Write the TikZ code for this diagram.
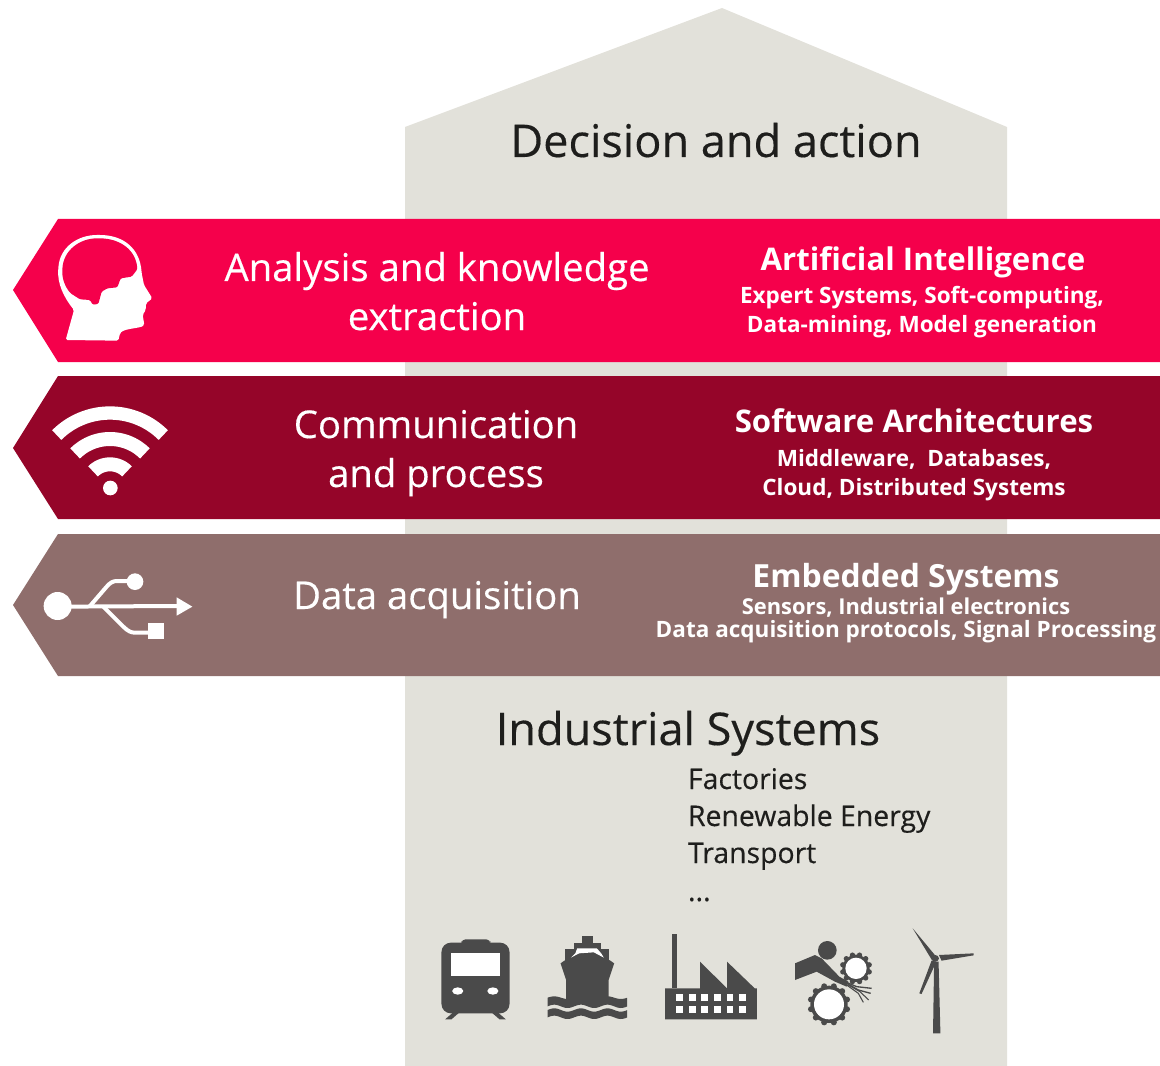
\documentclass[tikz,border=0pt]{standalone}
\usepackage{fontspec}
\setmainfont{Open Sans}
\newfontfamily\medfont{Open Sans}[RawFeature={embolden=0.35}]
\definecolor{house}{HTML}{E2E1DA}
\definecolor{bandA}{HTML}{F5004B}
\definecolor{bandB}{HTML}{950529}
\definecolor{bandC}{HTML}{8F6E6C}
\definecolor{ink}{HTML}{1E1E1C}
\definecolor{icon}{HTML}{4A4A4A}
\tikzset{
  txt/.style={anchor=base,inner sep=0pt,outer sep=0pt,align=center},
  big/.style={txt,font=\medfont\fontsize{33.8}{40}\selectfont,text=ink},
  head/.style={txt,font=\medfont\fontsize{28.7}{34}\selectfont,text=white},
  subhead/.style={txt,font=\fontsize{23.4}{28}\selectfont\bfseries,text=white},
  small/.style={txt,font=\fontsize{16.9}{20}\selectfont\bfseries,text=white},
  item/.style={txt,anchor=base west,font=\medfont\fontsize{21.3}{26}\selectfont,text=ink},
}
\newcommand{\wifiarc}[2]{\draw[white,line width=#2*0.25pt] plot[domain=225:315,samples=30] ({330+#1*cos(\x)},{835+#1*sin(\x)});}
\newcommand{\gearicon}[5]{% x y body-r inner-r tooth-r
  \fill[icon] (#1,#2) circle[radius=#3];
  \foreach \a in {0,30,...,330}{\fill[icon] ({#1+#3*cos(\a+15)},{#2+#3*sin(\a+15)}) circle[radius=#5];}
  \fill[white] (#1,#2) circle[radius=#4];}
\begin{document}
\begin{tikzpicture}[x=0.75pt,y=-0.75pt]
\useasboundingbox (0,0) rectangle (1160,1066);
\fill[house] (405,1066) -- (405,127) -- (722,8) -- (1007,127) -- (1007,1066) -- cycle;
\fill[bandA] (1160,219) -- (58,219) -- (13,290) -- (58,362) -- (1160,362) -- cycle;
\fill[bandB] (1160,376) -- (58,376) -- (13,448) -- (58,519) -- (1160,519) -- cycle;
\fill[bandC] (1160,534) -- (58,534) -- (13,605) -- (58,676) -- (1160,676) -- cycle;

\node[big] (decision) at (716,157) {Decision and action};
\node[head] (analysis1) at (437,281) {Analysis and knowledge};
\node[head] (analysis2) at (437,330) {extraction};
\node[subhead] (ai) at (923,271) {Artificial Intelligence};
\node[small] (ai1) at (922,304) {Expert Systems, Soft-computing,};
\node[small] (ai2) at (922,332) {Data-mining, Model generation};
\node[head] (comm1) at (436,438) {Communication};
\node[head] (comm2) at (436,487) {and process};
\node[subhead] (sw) at (914,432) {Software Architectures};
\node[small] (sw1) at (914,466) {Middleware,\ \ Databases,};
\node[small] (sw2) at (914,495) {Cloud, Distributed Systems};
\node[head] (data) at (437,609) {Data acquisition};
\node[subhead,font=\fontsize{23.9}{28}\selectfont\bfseries] (emb) at (906,587) {Embedded Systems};
\node[small,font=\fontsize{16.4}{20}\selectfont\bfseries] (emb1) at (906,614) {Sensors, Industrial electronics};
\node[small] (emb2) at (906,637) {Data acquisition protocols, Signal Processing};
\node[big] (industrial) at (688,745) {Industrial Systems};
\node[item] (i1) at (688,789) {Factories};
\node[item] (i2) at (688,826) {Renewable Energy};
\node[item] (i3) at (688,863) {Transport};
\node[item] (i4) at (688,901) {...};

% left icons, in the coordinates of a 3x crop
\begin{scope}[shift={(0,210)},x=0.25pt,y=-0.25pt]
  % head
  \fill[white,rounded corners=1.2pt] (197,390) -- (222,300) .. controls (190,260) and (172,220) .. (175,175)
    .. controls (180,110) and (235,75) .. (295,75) .. controls (370,75) and (420,115) .. (425,190)
    -- (432,225) -- (457,265) -- (438,280) -- (437,300) -- (428,315) -- (433,345)
    .. controls (420,355) and (375,355) .. (360,370) -- (355,392) -- cycle;
  \fill[bandA,rounded corners=1pt] (187,180) .. controls (190,120) and (240,85) .. (295,85)
    .. controls (360,85) and (408,120) .. (412,178) -- (395,200) -- (362,205) -- (352,232)
    -- (322,235) -- (305,245) -- (295,282) -- (278,284) -- (270,270) -- (240,268) -- (212,250)
    .. controls (195,230) and (186,205) .. (187,180) -- cycle;
  % wifi
  \wifiarc{226}{40}
  \wifiarc{148}{42}
  \wifiarc{72}{42}
  \fill[white] (331,834) circle[radius=22];
  % usb
  \fill[white] (173,1188) circle[radius=42];
  \draw[white,line width=3pt] (173,1190) -- (535,1188);
  \fill[white] (530,1162) -- (577,1190) -- (530,1217) -- cycle;
  \draw[white,line width=3pt] (270,1188) -- (320,1130) .. controls (330,1118) and (340,1113) .. (350,1113) -- (405,1113);
  \fill[white] (405,1115) circle[radius=25];
  \draw[white,line width=3pt] (310,1190) -- (370,1250) .. controls (385,1265) and (395,1268) .. (405,1268) -- (445,1268);
  \fill[white] (443,1240) rectangle (492,1288);
\end{scope}

% bottom icons (crop shown 2.703x wide, 3x high)
\begin{scope}[shift={(420,920)},x=0.2774pt,y=-0.25pt]
  % train
  \fill[icon,rounded corners=7pt] (58,280) rectangle (242,68);
  \fill[icon,rounded corners=3pt] (112,75) rectangle (190,58);
  \fill[icon] (68,298) -- (95,272) -- (112,272) -- (85,298) -- cycle;
  \fill[icon] (232,298) -- (205,272) -- (188,272) -- (215,298) -- cycle;
  \fill[white] (85,100) rectangle (215,168);
  \fill[white] (102,213) ellipse[x radius=15,y radius=11];
  \fill[white] (197,213) ellipse[x radius=15,y radius=11];
  % ship
  \fill[icon] (438,47) rectangle (468,75);
  \fill[icon] (415,70) rectangle (490,92);
  \fill[icon] (393,88) rectangle (512,125);
  \fill[icon] (393,120) -- (512,120) -- (525,130) -- (510,180) -- (510,240) -- (395,240) -- (395,180) -- (380,130) -- cycle;
  \fill[white] (408,113) -- (420,100) -- (425,85) -- (478,85) -- (490,100) -- (497,113) -- (470,97) -- (430,100) -- cycle;
  \fill[icon] plot[domain=345:560,samples=50] (\x,{233-4*sin(5*(\x-345))})
    -- plot[domain=560:345,samples=50] (\x,{259-5*sin(5*(\x-345))}) -- cycle;
  \fill[icon] plot[domain=345:560,samples=50] (\x,{270-5*sin(5*(\x-345))})
    -- plot[domain=560:345,samples=50] (\x,{292-5*sin(5*(\x-345))}) -- cycle;
  % factory
  \fill[icon] (680,43) rectangle (695,205);
  \fill[icon] (663,298) -- (663,205) -- (757,205) -- (757,125) -- (830,205) -- (830,125) -- (905,205) -- (911,205) -- (911,298) -- cycle;
  \foreach \wx in {693,727,761,795,829,863}{
    \fill[white] (\wx,222) rectangle ++(18,20);
    \fill[white] (\wx,258) rectangle ++(18,20);
  }
  % turbine
  \fill[icon] (1390,125) -- (1402,125) -- (1407,340) -- (1387,340) -- cycle;
  \fill[icon] (1332,25) -- (1392,105) -- (1385,122) -- cycle;
  \fill[icon] (1403,105) -- (1497,100) -- (1497,106) -- (1410,122) -- cycle;
  \fill[icon] (1383,122) -- (1396,125) -- (1356,222) -- (1350,220) -- cycle;
  \fill[icon] (1393,115) circle[radius=10];
\end{scope}

% gears and hand, 3x crop at true scale
\begin{scope}[shift={(780,925)},x=0.25pt,y=-0.25pt]
  \gearicon{228}{130}{41}{32}{8}
  \gearicon{147}{238}{56}{45}{9}
  \fill[icon] (142,76) circle[radius=28];
  \fill[icon] (45,115) -- (105,90) -- (125,100) -- (178,155) -- (205,170) -- (200,185) -- (165,170) -- (110,140) -- (45,165) -- cycle;
  \draw[icon,line width=1pt] (195,170) -- (230,185) -- (275,190);
  \draw[icon,line width=1pt] (200,175) -- (235,195) -- (272,205);
  \draw[icon,line width=0.8pt] (205,180) -- (240,200) -- (266,225);
  \draw[icon,line width=0.8pt] (200,180) -- (235,205) -- (250,232);
\end{scope}
\end{tikzpicture}
\end{document}
